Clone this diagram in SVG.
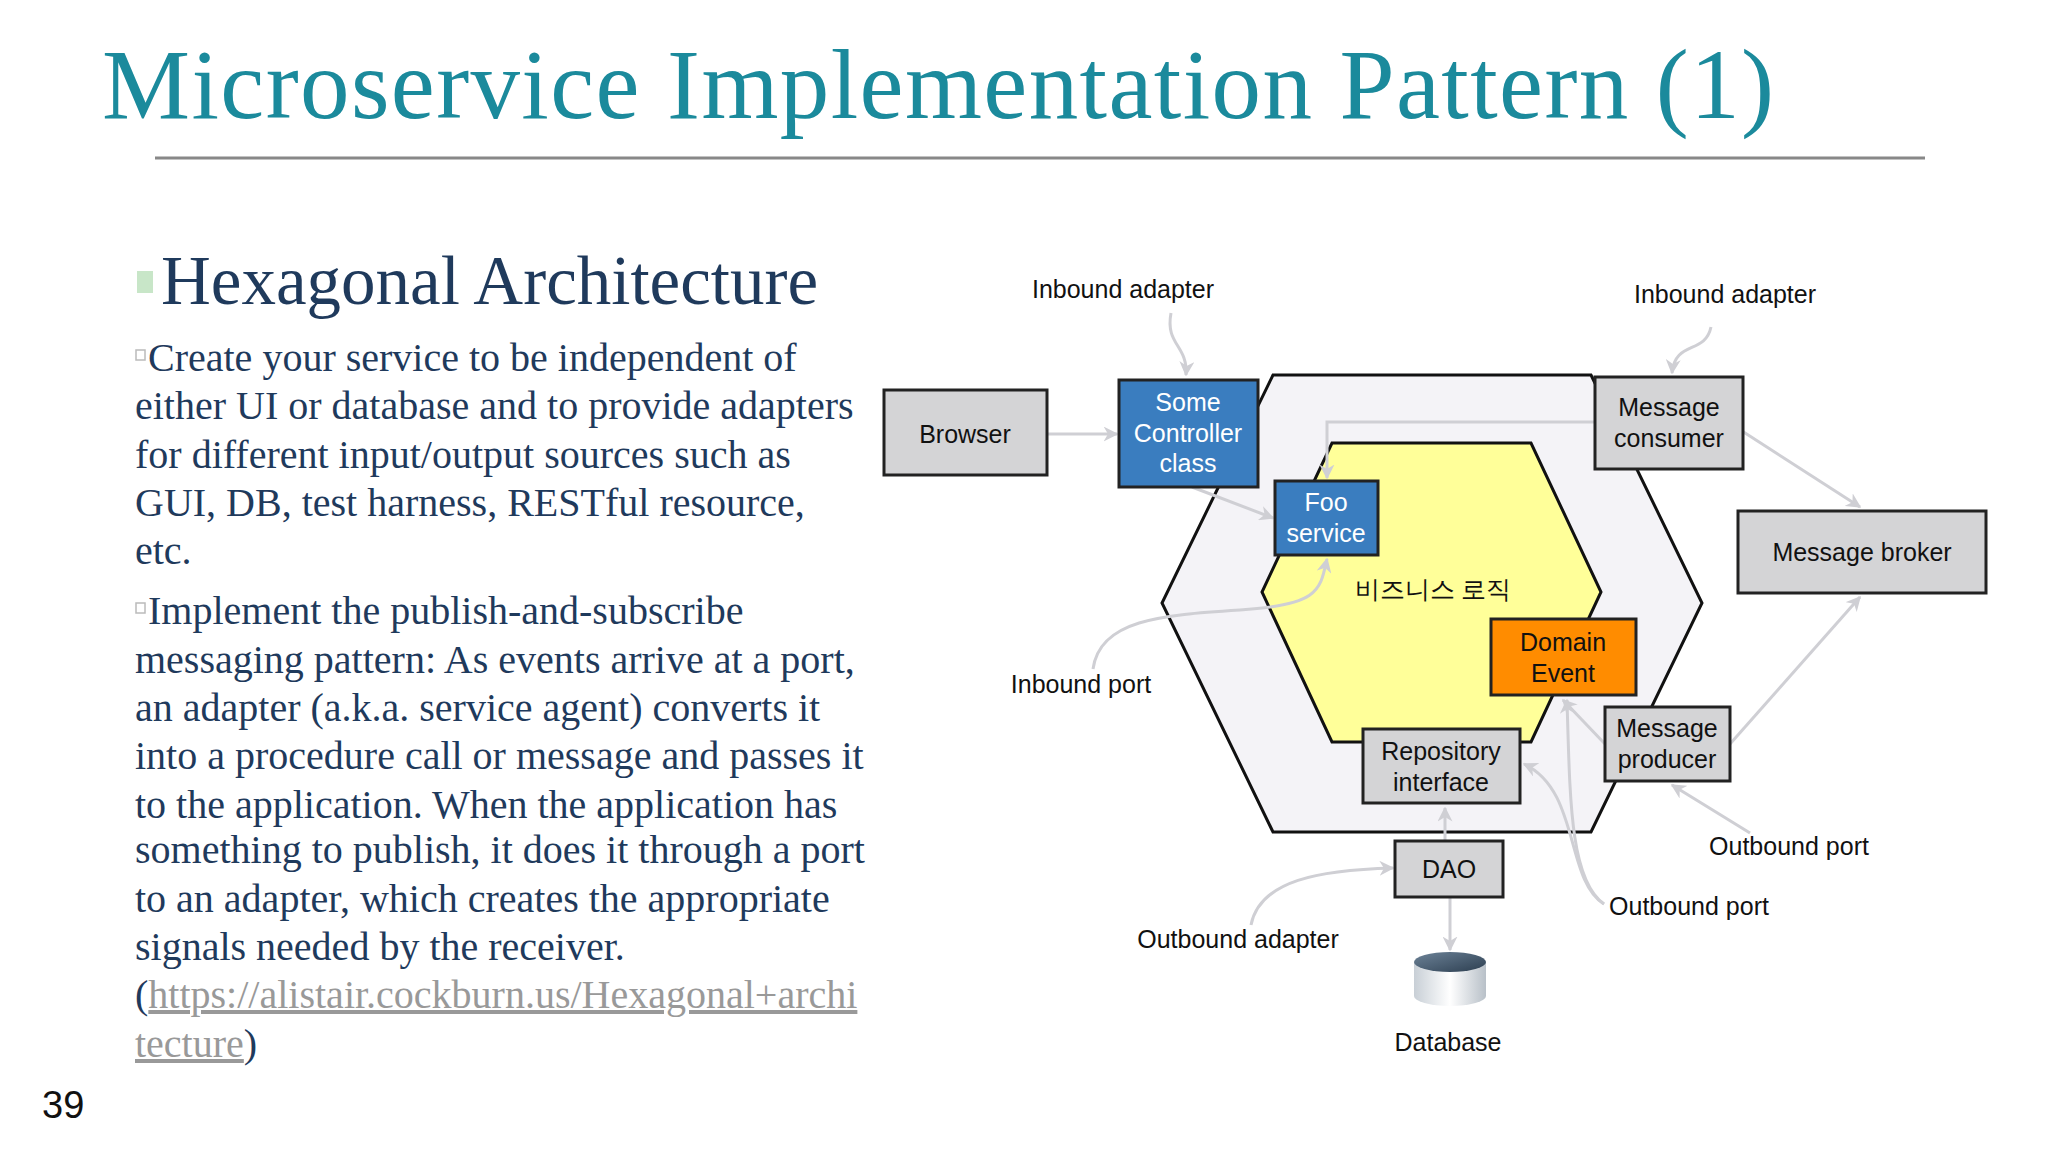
<svg xmlns="http://www.w3.org/2000/svg" width="2048" height="1152" viewBox="0 0 2048 1152">
<style>
.body{font-family:"Liberation Serif",serif;font-size:40px;fill:#1f3a5c}
.lbl{font-family:"Liberation Sans",Arial,sans-serif;font-size:25px;fill:#111;text-anchor:middle}
.box{stroke:#222;stroke-width:3}
.gray{fill:#d4d4d6}
.blue{fill:#3a7dbf}
.con{fill:none;stroke:#cfcfd4;stroke-width:3;marker-end:url(#ah)}
.lnk{fill:#999;text-decoration:underline}
</style>
<defs>
<marker id="ah" viewBox="0 0 10 10" refX="9" refY="5" markerWidth="5" markerHeight="5" orient="auto"><path d="M0,0L10,5L0,10L3,5z" fill="#cfcfd4"/></marker>
<linearGradient id="cyl" x1="0" x2="1" y1="0" y2="0"><stop offset="0" stop-color="#c8cfd6"/><stop offset="0.5" stop-color="#ffffff"/><stop offset="1" stop-color="#b8c0c8"/></linearGradient>
<linearGradient id="cyltop" x1="0" x2="1" y1="0" y2="1"><stop offset="0" stop-color="#6d8398"/><stop offset="1" stop-color="#2c3e50"/></linearGradient>
</defs>
<rect width="2048" height="1152" fill="#fff"/>
<text x="102" y="118" font-family="Liberation Serif,serif" font-size="99" fill="#1b8a9c" textLength="1672">Microservice Implementation Pattern (1)</text>
<line x1="155" y1="158" x2="1925" y2="158" stroke="#888" stroke-width="3"/>
<rect x="137" y="271" width="16" height="22" fill="#c8e6c8"/>
<text x="161" y="304" font-family="Liberation Serif,serif" font-size="69" fill="#1f3a5c">Hexagonal Architecture</text>
<g class="body">
<rect x="136" y="350" width="9" height="10" fill="none" stroke="#bbb" stroke-width="1.5"/>
<text x="148" y="371">Create your service to be independent of</text>
<text x="135" y="419">either UI or database  and to provide adapters</text>
<text x="135" y="468">for different input/output sources such as</text>
<text x="135" y="516">GUI, DB, test harness, RESTful resource,</text>
<text x="135" y="564">etc.</text>
<rect x="136" y="603" width="9" height="10" fill="none" stroke="#bbb" stroke-width="1.5"/>
<text x="148" y="624">Implement the publish-and-subscribe</text>
<text x="135" y="673">messaging pattern: As events arrive at a port,</text>
<text x="135" y="721">an adapter (a.k.a. service agent) converts it</text>
<text x="135" y="769">into a procedure call or message  and passes  it</text>
<text x="135" y="818">to the application. When the application has</text>
<text x="135" y="863">something to publish, it does it through a port</text>
<text x="135" y="912">to an adapter, which creates the appropriate</text>
<text x="135" y="960">signals needed by the receiver.</text>
<text x="135" y="1008">(<tspan class="lnk">https://alistair.cockburn.us/Hexagonal+archi</tspan></text>
<text x="135" y="1057"><tspan class="lnk">tecture</tspan>)</text>
</g>
<text x="42" y="1118" font-family="Liberation Sans,Arial,sans-serif" font-size="38" fill="#111">39</text>
<g id="outer-hex"><polygon points="1273,375 1591,375 1702,603 1591,832 1273,832 1162,603" fill="#f4f3f7" stroke="#111" stroke-width="3"/></g>
<g id="inner-hex"><polygon points="1332,443 1531,443 1601,592 1531,742 1332,742 1262,592" fill="#ffff99" stroke="#111" stroke-width="3"/>
<text x="1433" y="598" class="lbl" font-family="Noto Sans CJK KR,sans-serif">비즈니스 로직</text></g>
<g id="connectors">
<path class="con" d="M1047,434H1117"/>
<path class="con" d="M1171,313C1165,345 1188,345 1186,375"/>
<path class="con" d="M1711,327C1705,355 1675,340 1672,373"/>
<path class="con" d="M1192,487L1273,518"/>
<path class="con" d="M1595,422H1327V478"/>
<path class="con" d="M1742,431L1860,507"/>
<path class="con" d="M1730,744L1860,597"/>
<path class="con" d="M1605,744L1563,700"/>
<path class="con" d="M1093,669C1100,620 1160,615 1240,610S1320,590 1327,559"/>
<path class="con" d="M1604,904C1570,880 1570,800 1567,700"/>
<path class="con" d="M1604,904C1565,880 1580,790 1524,764"/>
<path class="con" d="M1750,833L1672,785"/>
<path class="con" d="M1251,925C1260,880 1320,870 1393,868"/>
<path class="con" d="M1445,841V808"/>
<path class="con" d="M1450,897V950"/>
</g>
<g id="browser"><rect class="box gray" x="884" y="390" width="163" height="85"/><text class="lbl" x="965" y="443">Browser</text></g>
<g id="controller"><rect class="box blue" x="1119" y="380" width="139" height="107"/><text class="lbl" style="fill:#fff" x="1188" y="411">Some</text><text class="lbl" style="fill:#fff" x="1188" y="442">Controller</text><text class="lbl" style="fill:#fff" x="1188" y="472">class</text></g>
<g id="foo"><rect class="box blue" x="1275" y="481" width="103" height="74"/><text class="lbl" style="fill:#fff" x="1326" y="511">Foo</text><text class="lbl" style="fill:#fff" x="1326" y="542">service</text></g>
<g id="consumer"><rect class="box gray" x="1595" y="377" width="148" height="92"/><text class="lbl" x="1669" y="416">Message</text><text class="lbl" x="1669" y="447">consumer</text></g>
<g id="broker"><rect class="box gray" x="1738" y="511" width="248" height="82"/><text class="lbl" x="1862" y="561">Message broker</text></g>
<g id="domain"><rect class="box" fill="#ff8c00" x="1491" y="619" width="145" height="76"/><text class="lbl" x="1563" y="651">Domain</text><text class="lbl" x="1563" y="682">Event</text></g>
<g id="producer"><rect class="box gray" x="1605" y="707" width="125" height="74"/><text class="lbl" x="1667" y="737">Message</text><text class="lbl" x="1667" y="768">producer</text></g>
<g id="repository"><rect class="box gray" x="1363" y="729" width="157" height="74"/><text class="lbl" x="1441" y="760">Repository</text><text class="lbl" x="1441" y="791">interface</text></g>
<g id="dao"><rect class="box gray" x="1395" y="841" width="108" height="56"/><text class="lbl" x="1449" y="878">DAO</text></g>
<g id="database"><path d="M1414,962V996A36,10 0 0 0 1486,996V962Z" fill="url(#cyl)"/><ellipse cx="1450" cy="962" rx="36" ry="10" fill="url(#cyltop)"/><text class="lbl" x="1448" y="1051">Database</text></g>
<g id="labels">
<text class="lbl" x="1123" y="298">Inbound adapter</text>
<text class="lbl" x="1725" y="303">Inbound adapter</text>
<text class="lbl" x="1081" y="693">Inbound port</text>
<text class="lbl" x="1789" y="855">Outbound port</text>
<text class="lbl" x="1689" y="915">Outbound port</text>
<text class="lbl" x="1238" y="948">Outbound adapter</text>
</g>
</svg>
